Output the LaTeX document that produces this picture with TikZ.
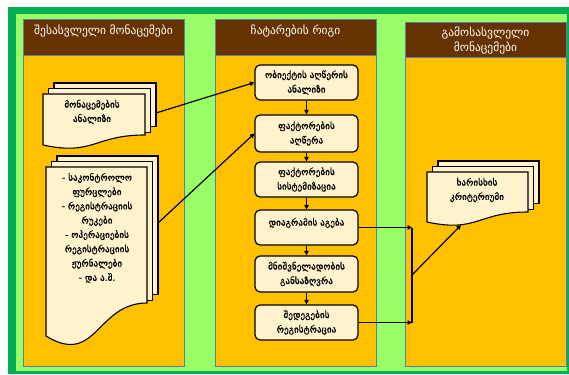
\documentclass[tikz,border=0pt]{standalone}
\usepackage{fontspec}
\setmainfont{DejaVu Sans}
\newfontfamily\bodyfont[FakeBold=0.6]{DejaVu Sans}
\usetikzlibrary{arrows.meta,calc}
\definecolor{framegreen}{HTML}{00B050}
\definecolor{fieldgreen}{HTML}{99FF66}
\definecolor{panelorange}{HTML}{FFC000}
\definecolor{headbrown}{HTML}{663300}
\definecolor{paneledge}{HTML}{5B7DA8}
\definecolor{paper}{HTML}{FFF2CC}
\tikzset{
  panel/.style={draw=paneledge, line width=1pt, fill=panelorange},
  header/.style={draw=paneledge, line width=1pt, fill=headbrown},
  headtext/.style={text=white, font=\fontsize{11.5}{15}\selectfont, align=center, anchor=north, inner sep=0pt},
  stepbox/.style={draw=black, line width=1.2pt, fill=paper, rounded corners=5pt,
    minimum width=103pt, minimum height=35pt, align=center, inner sep=1pt,
    font=\bodyfont\fontsize{9.2}{14.5}\selectfont},
  sheet/.style={draw=black, line width=1.1pt, fill=paper},
  doctext/.style={align=center, font=\bodyfont\fontsize{9.2}{14.3}\selectfont, inner sep=0pt},
  arr/.style={-{Triangle[length=4.5pt,width=4.5pt]}, line width=1.2pt, draw=black},
  link/.style={line width=1.2pt, draw=black}
}
% stacked document: front sheet x1..x2, top, right corner yr, left corner yl, wave depth yc, offset d
\newcommand{\docstack}[7]{%
  \path[sheet] (#1+2*#7,#3-2*#7) rectangle (#2+2*#7,#4-1.5*#7);
  \path[sheet] (#1+#7,#3-#7) rectangle (#2+#7,#4-0.5*#7);
  \path[sheet] (#1,#3) -- (#2,#3) -- (#2,#4)
     .. controls ({(#1+#2)/2},#4) and ({(#1+#2)/2},#6) .. (#1,#5) -- cycle;
}
\begin{document}
\begin{tikzpicture}[x=1pt,y=-1pt]
\useasboundingbox (0,0) rectangle (569,374);
% background frame
\fill[framegreen] (8,7) rectangle (569,374);
\fill[fieldgreen] (16,14) rectangle (567,371);

% three columns
\path[panel] (23,56) rectangle (184,366);
\path[header] (23,20) rectangle (184,56);
\path[panel] (215,56) rectangle (376,366);
\path[header] (215,20) rectangle (376,56);
\path[panel] (405,58) rectangle (566,366);
\path[header] (405,23) rectangle (566,58);

\node[headtext] (h1) at (103.5,25) {შესასვლელი მონაცემები};
\node[headtext] (h2) at (295.5,25) {ჩატარების რიგი};
\node[headtext] (h3) at (485.5,27) {გამოსასვლელი\\მონაცემები};

% input documents
\docstack{43}{145}{94}{135}{145}{156}{5.5}
\node[doctext] (d1) at (92,112) {მონაცემების\\ანალიზი};
\coordinate (d1r) at (156,113);

\docstack{46}{147}{167}{303}{336}{367}{5.5}
\node[doctext] (d2) at (97,228) {- საკონტროლო\\ფურცლები\\- რეგისტრაციის\\რუკები\\- ოპერაციების\\რეგისტრაციის\\ჟურნალები\\- და ა.შ.};
\coordinate (d2r) at (158,223);

% output document
\docstack{427}{528}{172}{212}{222}{233}{5.5}
\node[doctext] (d3) at (477,190) {ხარისხის\\კრიტერიუმი};
\coordinate (d3b) at (461,225);

% procedure steps
\node[stepbox] (b1) at (306.5,82.5) {ობიექტის აღწერის\\ანალიზი};
\node[stepbox, minimum height=37pt] (b2) at (306.5,133.5) {ფაქტორების\\აღწერა};
\node[stepbox] (b3) at (306.5,179.5) {ფაქტორების\\სისტემიზაცია};
\node[stepbox] (b4) at (306.5,227.5) {დიაგრამის აგება\\[-3pt]\mbox{}};
\node[stepbox, minimum height=36pt] (b5) at (306.5,274) {მნიშვნელადობის\\განსაზღვრა};
\node[stepbox] (b6) at (306.5,322.5) {შედეგების\\რეგისტრაცია};

\draw[arr] (b1) -- (b2);
\draw[arr] (b2) -- (b3);
\draw[arr] (b3) -- (b4);
\draw[arr] (b4) -- (b5);
\draw[arr] (b5) -- (b6);

% inputs into the steps
\draw[arr] (d1r) -- (b1.west);
\draw[arr] (d2r) -- (b2.west);

% results collected into the output
\coordinate (jx) at (412,0);
\draw[arr] (b4.east) -- (b4.east -| jx) coordinate (j1);
\draw[arr] (b6.east) -- (b6.east -| jx) coordinate (j2);
\draw[link] (j1) -- (j2);
\draw[arr] ($(j1)!0.5!(j2)$) -- (d3b);
\end{tikzpicture}
\end{document}
